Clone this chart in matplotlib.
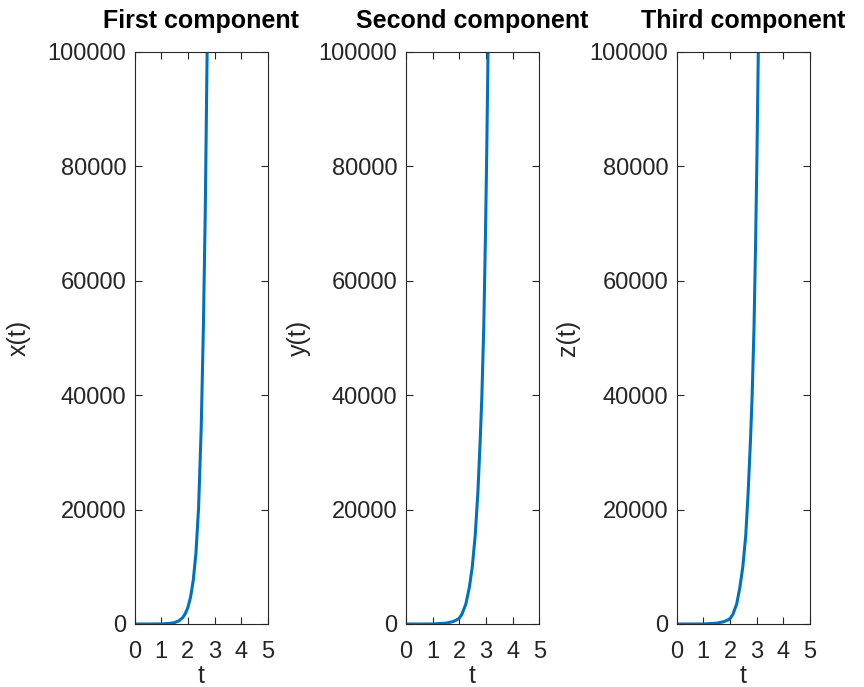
import numpy as np
import matplotlib
matplotlib.use("Agg")
import matplotlib.pyplot as plt

# values
t1 = [0.0, 0.5, 1.0, 1.3, 1.5, 1.65, 1.8, 1.9, 2.0, 2.1, 2.2, 2.3, 2.4, 2.5, 2.58, 2.65, 2.72]
x1 = [0, 2, 22, 95, 250, 520, 1090, 1780, 2900, 4700, 7600, 12300, 20300, 34500, 52000, 72000, 100000]

t2 = [0.0, 0.5, 1.0, 1.5, 1.75, 1.9, 2.0, 2.1, 2.25, 2.38, 2.49, 2.6, 2.7, 2.79, 2.85, 2.92, 2.98, 3.03, 3.08]
y2 = [0, 0, 10, 150, 400, 700, 1000, 1700, 3500, 6400, 10000, 15500, 23000, 32500, 40000, 52000, 67000, 82000, 100000]

t3 = [0.0, 0.5, 1.0, 1.5, 1.77, 1.92, 2.01, 2.11, 2.25, 2.37, 2.48, 2.59, 2.68, 2.77, 2.83, 2.90, 2.96, 3.01, 3.06]
z3 = [0, 0, 10, 150, 400, 700, 1000, 1700, 3500, 6400, 10000, 15500, 23000, 32500, 40000, 52000, 67000, 82000, 100000]

titles = ["First component", "Second component", "Third component"]
ylabels = ["x(t)", "y(t)", "z(t)"]
series = [(t1, x1), (t2, y2), (t3, z3)]

plt.rcParams['font.family'] = ['Liberation Sans', 'DejaVu Sans']
fig = plt.figure(figsize=(8.64, 6.87), dpi=100, facecolor='w')

lefts = [134.5 / 864, 405.8 / 864, 676.6 / 864]
w = 133.5 / 864
bottom = 1 - 624 / 687
h = 572 / 687
dark = '#262626'
ypads = [12, 6, 7]

for i in range(3):
    ax = fig.add_axes([lefts[i], bottom, w, h])
    t, v = series[i]
    ax.plot(t, v, color='#0072BD', linewidth=2.2, solid_joinstyle='round')
    ax.set_xlim(0, 5)
    ax.set_ylim(0, 100000)
    ax.set_xticks(range(0, 6))
    ax.set_yticks(range(0, 100001, 20000))
    ax.set_yticklabels([str(k) for k in range(0, 100001, 20000)])
    ax.tick_params(direction='in', top=True, right=True, length=5, width=0.8,
                   labelsize=17, colors=dark, labelcolor=dark)
    ax.tick_params(axis='x', pad=12)
    ax.tick_params(axis='y', pad=6)
    for s in ax.spines.values():
        s.set_color(dark)
        s.set_linewidth(0.8)
    ax.set_title(titles[i], fontsize=18, fontweight='bold', pad=17)
    ax.set_xlabel('t', fontsize=18, color=dark, labelpad=1)
    ax.set_ylabel(ylabels[i], fontsize=18, color=dark, labelpad=ypads[i])

plt.savefig("out.png", dpi=100)
